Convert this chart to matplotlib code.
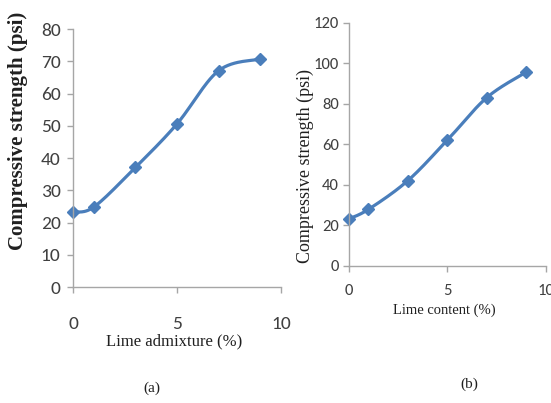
import numpy as np
import matplotlib
matplotlib.use("Agg")
import matplotlib.pyplot as plt

# Data
x_a = [0, 1, 3, 5, 7, 9]
y_a = [23.3, 24.8, 37.1, 50.6, 67.1, 70.7]
x_b = [0, 1, 3, 5, 7, 9]
y_b = [23.1, 27.8, 42.0, 62.0, 83.0, 95.6]

xlabel_a = "Lime admixture (%)"
xlabel_b = "Lime content (%)"
ylabel = "Compressive strength (psi)"
panel_a = "(a)"
panel_b = "(b)"

color = "#4A7EBB"
tick_font = ["Carlito", "DejaVu Sans"]
serif = ["Liberation Serif", "DejaVu Serif"]


def smooth(x, y, n=30):
    """Catmull-Rom smoothing through the data points (Excel-style smoothed line)."""
    x = np.asarray(x, float)
    y = np.asarray(y, float)
    px = np.concatenate([[x[0]], x, [x[-1]]])
    py = np.concatenate([[y[0]], y, [y[-1]]])
    xs, ys = [], []
    t = np.linspace(0, 1, n)
    for i in range(1, len(px) - 2):
        for (arr, out) in ((px, xs), (py, ys)):
            a, b, c, d = arr[i - 1], arr[i], arr[i + 1], arr[i + 2]
            out.extend(0.5 * ((2 * b) + (-a + c) * t + (2 * a - 5 * b + 4 * c - d) * t ** 2
                              + (-a + 3 * b - 3 * c + d) * t ** 3))
    return np.array(xs), np.array(ys)


fig = plt.figure(figsize=(5.51, 4.03), dpi=100)

ax1 = fig.add_axes([0.1325, 0.2878, 0.3775, 0.640])
ax2 = fig.add_axes([0.6328, 0.3407, 0.358, 0.603])

for ax, x, y in ((ax1, x_a, y_a), (ax2, x_b, y_b)):
    sx, sy = smooth(x, y)
    ax.plot(sx, sy, color=color, lw=2.3, solid_capstyle="round", clip_on=False)
    ax.plot(x, y, ls="none", marker="D", ms=6.5, color=color, clip_on=False)
    ax.set_xlim(0, 10)
    for s in ("top", "right"):
        ax.spines[s].set_visible(False)
    for s in ("left", "bottom"):
        ax.spines[s].set_color("#A6A6A6")
        ax.spines[s].set_linewidth(1.0)
    ax.set_xticks([0, 5, 10])
    ax.tick_params(colors="#A6A6A6", length=4, width=1.0)

ax1.set_ylim(0, 80)
ax1.set_yticks(range(0, 81, 10))
ax2.set_ylim(0, 120)
ax2.set_yticks(range(0, 121, 20))

for lab in ax1.get_xticklabels() + ax1.get_yticklabels():
    lab.set_family(tick_font)
    lab.set_fontsize(14)
    lab.set_color("#404040")
for lab in ax2.get_xticklabels() + ax2.get_yticklabels():
    lab.set_family(tick_font)
    lab.set_fontsize(12)
    lab.set_color("#404040")
ax1.tick_params(axis="x", pad=17)
ax1.tick_params(axis="y", pad=5)
ax2.tick_params(axis="x", pad=9)
ax2.tick_params(axis="y", pad=3)

# axis labels
fig.text(18 / 551, 1 - 131 / 403, ylabel, rotation=90, ha="center", va="center",
         family=serif, fontsize=15, fontweight="bold", color="#202020")
fig.text(305 / 551, 1 - 166 / 403, ylabel, rotation=90, ha="center", va="center",
         family=serif, fontsize=13, color="#202020")
fig.text(174 / 551, 1 - 341 / 403, xlabel_a, ha="center", va="center",
         family=serif, fontsize=12, color="#202020")
fig.text(444 / 551, 1 - 310 / 403, xlabel_b, ha="center", va="center",
         family=serif, fontsize=10.5, color="#202020")
fig.text(152 / 551, 1 - 388 / 403, panel_a, ha="center", va="center",
         family=serif, fontsize=11, color="#202020")
fig.text(469 / 551, 1 - 384 / 403, panel_b, ha="center", va="center",
         family=serif, fontsize=11, color="#202020")

fig.savefig("out.png", dpi=100)
